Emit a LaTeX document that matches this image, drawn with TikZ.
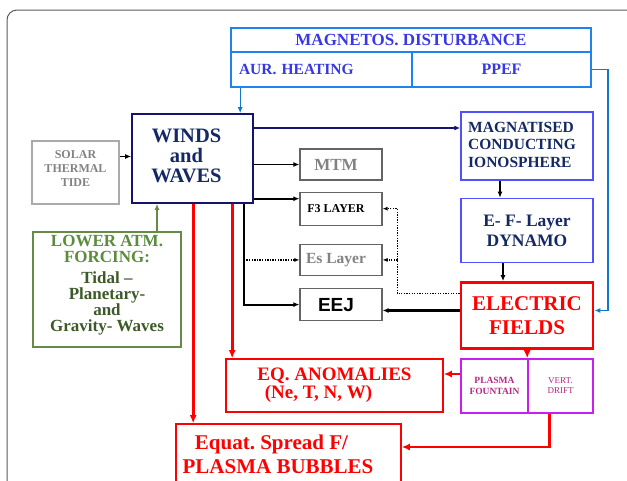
\documentclass[tikz,border=0pt]{standalone}
\usepackage{fontspec}
\setmainfont{Liberation Serif}
\newfontfamily\arialfont{Liberation Sans}
\usetikzlibrary{arrows.meta, positioning}

\definecolor{navytext}{RGB}{20,40,100}
\definecolor{navyline}{RGB}{20,20,110}
\definecolor{magline}{RGB}{30,130,240}
\definecolor{magtext}{RGB}{55,55,230}
\definecolor{lineblue}{RGB}{20,120,200}
\definecolor{ionoline}{RGB}{80,80,255}
\definecolor{graytext}{RGB}{130,130,130}
\definecolor{grayline}{RGB}{170,170,170}
\definecolor{darkgrayline}{RGB}{100,100,100}
\definecolor{greenlt}{RGB}{90,140,60}
\definecolor{greendk}{RGB}{60,90,40}
\definecolor{greenline}{RGB}{100,140,70}
\definecolor{plasmaline}{RGB}{200,30,240}
\definecolor{plasmatext}{RGB}{180,40,130}
\definecolor{framegray}{RGB}{90,90,90}

\newcommand{\fsz}[2]{\fontsize{#1}{#2}\selectfont}
\frenchspacing

\begin{document}
\begin{tikzpicture}[x=1pt, y=-1pt,
		box/.style={draw, line width=1.6pt, align=center, inner sep=0pt},
		layerbox/.style={box, draw=darkgrayline, line width=1.2pt, minimum width=82pt,
			execute at end node={\hspace*{10pt}}},
		arr/.style={-{Latex[length=6pt,width=5pt]}, line width=1.6pt},
		redarr/.style={-{Latex[length=8pt,width=7pt]}, red, line width=2.8pt},
		dotline/.style={line width=1.3pt, dash pattern=on 1.3pt off 1.3pt},
		dotarr/.style={dotline, -{Latex[length=5pt,width=4pt]}},
		node distance=11pt
		]
		\useasboundingbox (0,0) rectangle (627,480);
		\draw[framegray, line width=1pt, rounded corners=10pt] (7,500) |- (650,10);
		
		% top: magnetospheric disturbance
		\node[box, draw=magline, text=magtext, minimum width=360pt, minimum height=24pt,
			font=\fsz{17}{19}\bfseries] (magtop) at (411,40) {MAGNETOS. DISTURBANCE};
		\node[box, draw=magline, text=magtext, minimum width=181pt, minimum height=35pt,
			text width=165pt, align=left, font=\fsz{15.5}{17}\bfseries] (aur) at (321.5,69.5) {AUR. HEATING};
		\node[box, draw=magline, text=magtext, minimum width=179pt, minimum height=35pt,
			font=\fsz{16}{18}\bfseries] (ppef) at (501.5,69.5) {PPEF};
		
		% left side
		\node[draw=navyline, line width=1.6pt, inner sep=0pt, text=navytext, minimum width=121pt, minimum height=89pt,
			font=\fsz{20.5}{19}\bfseries] (winds) at (192.5,158.5)
			{\begin{tabular}{@{}c@{}}WINDS\\and\\WAVES\end{tabular}\hspace*{12pt}};
		\node[box, draw=grayline, text=graytext, line width=2pt, minimum width=87pt, minimum height=63pt,
			font=\fsz{12}{14}\bfseries] (solar) at (75.5,172.5) {SOLAR\\THERMAL\\TIDE\\[-6pt]};
		\node[box, draw=greenline, text=greendk, minimum width=148pt, minimum height=115pt,
			font=\fsz{17}{16}\bfseries] (lower) at (107,289.5)
			{\textcolor{greenlt}{LOWER ATM.}\\\textcolor{greenlt}{FORCING:}\\[5pt]Tidal --\\Planetary-\\and\\Gravity- Waves\\[-4pt]};
		
		% middle column
		\node[layerbox, text=graytext, minimum height=31pt, font=\fsz{17}{19}\bfseries] (mtm) at (341,164.5) {MTM};
		\node[layerbox, minimum height=33pt, font=\fsz{12}{14}\bfseries, below=of mtm] (fthree) {F3 LAYER};
		\node[layerbox, text=graytext, minimum height=31pt, font=\fsz{15.5}{17}\bfseries, below=18pt of fthree] (es) {Es Layer};
		\node[layerbox, minimum height=32pt, font=\fsz{19}{21}\arialfont\bfseries, below=12pt of es] (eej) {EEJ};
		
		% right column
		\node[draw=ionoline, line width=1.4pt, inner sep=0pt, text=navytext, minimum width=132pt, minimum height=68pt,
			font=\fsz{15.5}{17.5}\bfseries] (magn) at (527,146)
			{\begin{tabular}{@{}l@{}}MAGNATISED\\CONDUCTING\\IONOSPHERE\end{tabular}\hspace*{10pt}};
		\node[box, draw=ionoline, line width=1.4pt, text=navytext, minimum width=132pt, minimum height=64pt,
			font=\fsz{17.5}{20}\bfseries, below=17pt of magn] (dynamo) {E- F- Layer\\DYNAMO};
		\node[box, draw=red, text=red, line width=2.8pt, minimum width=132pt, minimum height=66pt,
			font=\fsz{21}{24}\bfseries, below=18pt of dynamo] (efield) {ELECTRIC\\FIELDS};
		\node[box, draw=plasmaline, text=plasmatext, minimum width=67pt, minimum height=54pt,
			font=\fsz{9.5}{11}\bfseries] (fountain) at (494.5,386) {PLASMA\\FOUNTAIN};
		\node[box, draw=plasmaline, text=plasmatext, minimum width=65pt, minimum height=54pt,
			font=\fsz{9}{10}] (drift) at (560.5,386) {VERT.\\DRIFT};
		
		% bottom
		\node[box, draw=red, text=red, minimum width=217pt, minimum height=53pt,
			font=\fsz{19}{18}\bfseries] (anomal) at (334.5,385.5) {EQ. ANOMALIES\\(Ne, T, N, W)\hspace*{32pt}};
		\node[box, draw=red, text=red, minimum width=225pt, minimum height=60pt,
			font=\fsz{21}{24}\bfseries] (spread) at (288.5,454) {Equat. Spread F/\hspace*{34pt}\\PLASMA BUBBLES\hspace*{21pt}};
		
		% connectors
		\draw[arr, lineblue, line width=1.4pt] ([xshift=10pt]aur.south west) -- ([xshift=10pt]aur.south west |- winds.north);
		\draw[arr, lineblue, line width=1.4pt] (ppef.east) -- ++(16,0) |- ([yshift=5pt]efield.east);
		\draw[arr] ([yshift=16pt]solar.east) -- ([yshift=16pt]solar.east -| winds.west);
		\draw[arr, greenline] ([xshift=50pt]lower.north) -- ([xshift=50pt]lower.north |- winds.south);
		\draw[arr, navyline] ([yshift=18pt]magn.west -| winds.east) -- ([yshift=18pt]magn.west);
		\draw[arr] (winds.east |- mtm.west) -- (mtm.west);
		\draw[arr] ([yshift=10pt]fthree.west -| winds.east) -- ([yshift=10pt]fthree.west);
		\draw[arr, line width=2pt] ([xshift=-10pt]winds.south east) |- (eej.west);
		\draw[dotarr] ([xshift=-10pt]winds.south east |- es.west) -- (es.west);
		\draw[redarr] ([xshift=62pt]winds.south west) -- ([xshift=62pt]winds.south west |- spread.north);
		\draw[redarr] ([xshift=101pt]winds.south west) -- ([xshift=101pt]winds.south west |- anomal.north);
		
		\draw[arr, line width=2.2pt] ([xshift=-27pt]magn.south) -- ([xshift=-27pt]dynamo.north);
		\draw[arr, line width=2.2pt] ([xshift=-24pt]dynamo.south) -- ([xshift=-24pt]efield.north);
		\coordinate (dotbend) at ([xshift=-62pt, yshift=22pt]efield.west);
		\draw[dotline] ([yshift=22pt]efield.west) -- (dotbend);
		\draw[dotarr] (dotbend) |- (fthree.east);
		\draw[dotarr] (dotbend |- es.east) -- (es.east);
		\draw[arr, line width=2.2pt] ([yshift=5pt]efield.west) -- ([yshift=5pt]efield.west -| eej.east);
		
		\draw[redarr, line width=2pt] (efield.south -| drift.north west) -- (drift.north west);
		\draw[redarr] ([yshift=12pt]fountain.west) -- ([yshift=12pt]fountain.west -| anomal.east);
		\draw[redarr] ([xshift=-11pt]drift.south) |- ([yshift=7pt]spread.east);
		
	\end{tikzpicture}
\end{document}
